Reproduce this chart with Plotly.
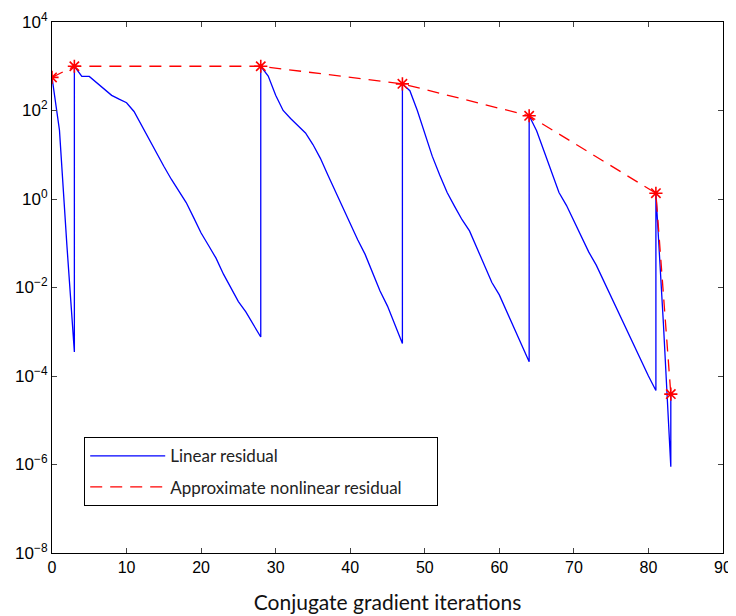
import plotly.graph_objects as go

# Linear residual (CG iterations, restart points repeat the x value)
lin_x = [0, 1, 2, 3,
         3, 4, 5, 6, 7, 8, 9, 10, 11, 12, 13, 14, 15, 16, 17, 18, 19, 20, 21, 22, 23, 24, 25, 26, 27, 28,
         28, 29, 30, 31, 32, 33, 34, 35, 36, 37, 38, 39, 40, 41, 42, 43, 44, 45, 46, 47,
         47, 48, 49, 50, 51, 52, 53, 54, 55, 56, 57, 58, 59, 60, 61, 62, 63, 64,
         64, 65, 66, 67, 68, 69, 70, 71, 72, 73, 74, 75, 76, 77, 78, 79, 80, 81,
         81, 82, 83, 83]
lin_y = [5.6e2, 3.6e1, 8.9e-2, 3.5e-4,
         1.0e3, 5.9e2, 5.9e2, 4.2e2, 3.0e2, 2.2e2, 1.8e2, 1.5e2, 9.5e1, 4.6e1, 2.3e1, 1.1e1, 5.5, 2.8, 1.5,
         8.3e-1, 3.8e-1, 1.7e-1, 8.9e-2, 4.6e-2, 2.0e-2, 1.0e-2, 4.8e-3, 2.8e-3, 1.5e-3, 7.6e-4,
         1.0e3, 6.0e2, 2.2e2, 1.0e2, 6.6e1, 4.6e1, 3.1e1, 1.7e1, 8.3, 3.5, 1.5, 6.2e-1, 2.6e-1, 1.2e-1,
         5.6e-2, 2.1e-2, 8.3e-3, 3.8e-3, 1.5e-3, 5.4e-4,
         4.0e2, 2.8e2, 1.0e2, 3.2e1, 9.3, 3.5, 1.4, 6.8e-1, 3.4e-1, 1.9e-1, 7.6e-2, 3.0e-2, 1.3e-2,
         6.8e-3, 2.8e-3, 1.2e-3, 5.0e-4, 2.1e-4,
         7.6e1, 3.5e1, 1.2e1, 4.0, 1.4, 7.2e-1, 3.2e-1, 1.4e-1, 6.3e-2, 3.2e-2, 1.4e-2, 6.3e-3, 2.8e-3,
         1.2e-3, 5.0e-4, 2.2e-4, 1.0e-4, 4.7e-5,
         1.35, 1.6e-3, 8.9e-7, 3.9e-5]

# Approximate nonlinear residual at each Newton step
nl_x = [0, 3, 28, 47, 64, 81, 83]
nl_y = [5.6e2, 1.0e3, 1.0e3, 4.0e2, 7.6e1, 1.35, 3.9e-5]

x_ticks = [0, 10, 20, 30, 40, 50, 60, 70, 80, 90]
y_tickvals = [1e-8, 1e-6, 1e-4, 1e-2, 1e0, 1e2, 1e4]
y_ticktext = ["10<sup>\u22128</sup>", "10<sup>\u22126</sup>", "10<sup>\u22124</sup>",
              "10<sup>\u22122</sup>", "10<sup>0</sup>", "10<sup>2</sup>", "10<sup>4</sup>"]

fig = go.Figure()
fig.add_trace(go.Scatter(x=lin_x, y=lin_y, mode="lines", name="Linear residual",
                         line=dict(color="#0000FF", width=1.3), legendgroup="a"))
fig.add_trace(go.Scatter(x=nl_x, y=nl_y, mode="lines",
                         name="Approximate nonlinear residual\u00a0\u00a0\u00a0\u00a0\u00a0\u00a0\u00a0",
                         line=dict(color="#FF0000", width=1.3, dash="12px,8px"), legendgroup="b"))
fig.add_trace(go.Scatter(x=nl_x, y=nl_y, mode="markers", showlegend=False,
                         marker=dict(symbol="asterisk-open", size=11, color="#FF0000",
                                     line=dict(color="#FF0000", width=1.6))))

fig.update_layout(
    width=728, height=608,
    margin=dict(l=44, r=13, t=14, b=63, autoexpand=False),
    paper_bgcolor="white", plot_bgcolor="white",
    font=dict(family="Liberation Sans", color="black", size=16),
    legend=dict(x=0.048, y=0.218, xanchor="left", yanchor="top",
                bordercolor="black", borderwidth=1, bgcolor="white",
                font=dict(family="Lato", size=17, color="#222222"),
                tracegroupgap=6, itemwidth=75),
    xaxis=dict(range=[0, 90], tickvals=x_ticks, ticks="inside", ticklen=5,
               showline=True, linecolor="black", linewidth=1, mirror="ticks",
               showgrid=False, zeroline=False, automargin=False,
               tickfont=dict(family="Liberation Sans", size=16, color="black"),
               title=dict(text="Conjugate gradient iterations", standoff=20,
                          font=dict(family="Lato", size=21, color="#111111"))),
    yaxis=dict(type="log", range=[-8, 4], tickvals=y_tickvals, ticktext=y_ticktext,
               ticks="inside", ticklen=5,
               showline=True, linecolor="black", linewidth=1, mirror="ticks",
               showgrid=False, zeroline=False, automargin=False,
               tickfont=dict(family="Liberation Sans", size=17, color="black")),
)

fig.write_html("out.html")
